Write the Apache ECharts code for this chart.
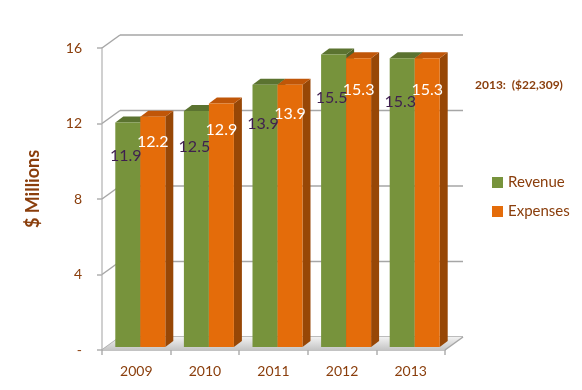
<!DOCTYPE html>
<html>
<head>
<meta charset="utf-8">
<script src="https://cdn.jsdelivr.net/npm/echarts@6/dist/echarts.min.js"></script>
<style>
html,body{margin:0;padding:0;background:#fff;}
#chart{width:582px;height:390px;}
</style>
</head>
<body>
<div id="chart"></div>
<script>
const categories = ['2009', '2010', '2011', '2012', '2013'];
const revenue = [11.9, 12.5, 13.9, 15.5, 15.3];
const expenses = [12.2, 12.9, 13.9, 15.3, 15.3];
const yTicks = [0, 4, 8, 12, 16];
const seriesNames = ['Revenue', 'Expenses'];
const note = '2013:  ($22,309)';
const yTitle = '$ Millions';

const BROWN = '#8a3e0c';
const FONT = 'Lato, "Open Sans", sans-serif';
const WALL_DX = 18, WALL_DY = -13;
const BAR_OFF_X = 4, BAR_OFF_Y = -3, BAR_DX = 8, BAR_DY = -6, BAR_W = 25;

const palettes = [
  { front: '#77933c', top: '#5b7330', side: '#4f6228', label: '#3f1f4f', ratio: 0.85 },
  { front: '#e46c0a', top: '#c05608', side: '#974706', label: '#ffffff', ratio: 0.89 }
];

function barRenderer(s) {
  const p = palettes[s];
  return function (params, api) {
    const idx = api.value(0), v = api.value(1);
    const base = api.coord([idx, 0]);
    const top = api.coord([idx, v]);
    const lab = api.coord([idx, v * p.ratio]);
    const x0 = base[0] + BAR_OFF_X + (s === 0 ? -BAR_W : 0);
    const x1 = x0 + BAR_W;
    const yb = base[1] + BAR_OFF_Y;
    const yt = top[1] + BAR_OFF_Y;
    return {
      type: 'group',
      children: [
        { type: 'polygon', shape: { points: [[x1, yt], [x1 + BAR_DX, yt + BAR_DY], [x1 + BAR_DX, yb + BAR_DY], [x1, yb]] }, style: { fill: p.side } },
        { type: 'polygon', shape: { points: [[x0, yt], [x1, yt], [x1 + BAR_DX, yt + BAR_DY], [x0 + BAR_DX, yt + BAR_DY]] }, style: { fill: p.top } },
        { type: 'rect', shape: { x: x0, y: yt, width: BAR_W, height: yb - yt }, style: { fill: p.front } },
        { type: 'text', z2: 100, x: x0 + BAR_W / 2 - (s === 0 ? 2 : 0), y: lab[1] + BAR_OFF_Y, style: { text: String(v), fill: p.label, fontSize: 16, fontFamily: FONT, align: 'center', verticalAlign: 'middle' } }
      ]
    };
  };
}

const chart = echarts.init(document.getElementById('chart'), null, { renderer: 'canvas' });
chart.setOption({
  animation: false,
  backgroundColor: '#fff',
  grid: { left: 102, right: 137, top: 48, bottom: 40 },
  legend: {
    orient: 'vertical', left: 487, top: 170, icon: 'rect', itemWidth: 11, itemHeight: 11, itemGap: 14,
    data: seriesNames,
    textStyle: { color: BROWN, fontSize: 15, fontFamily: FONT }
  },
  xAxis: {
    type: 'category', data: categories, boundaryGap: true,
    axisLine: { lineStyle: { color: '#b0b0b0', width: 1.5 } },
    axisTick: { show: true, length: 5, lineStyle: { color: '#b0b0b0', width: 1.5 } },
    axisLabel: { color: BROWN, fontSize: 14, fontFamily: FONT, margin: 14 }
  },
  yAxis: {
    type: 'value', min: 0, max: 16, interval: 4,
    axisLine: { show: true, lineStyle: { color: '#c0c0c0', width: 1.5 } },
    axisTick: { show: true, length: 5, lineStyle: { color: '#b0b0b0', width: 1.5 } },
    splitLine: { show: false },
    axisLabel: { color: BROWN, fontSize: 14, fontFamily: FONT, margin: 20, formatter: v => v === 0 ? '-' : String(v) }
  },
  graphic: [
    { type: 'text', x: 475, y: 85, style: { text: note, fill: BROWN, fontSize: 12, fontWeight: 'bold', fontFamily: FONT, verticalAlign: 'middle' } },
    { type: 'text', x: 33, y: 189, rotation: Math.PI / 2, style: { text: yTitle, fill: BROWN, fontSize: 18, fontWeight: 'bold', fontFamily: FONT, align: 'center', verticalAlign: 'middle' } }
  ],
  series: [
    {
      type: 'custom', name: '_walls', z: 1, silent: true,
      data: yTicks.map(v => [0, v]),
      renderItem: function (params, api) {
        const cs = params.coordSys;
        const y = api.coord([0, api.value(1)])[1];
        return {
          type: 'group',
          children: [
            { type: 'line', shape: { x1: cs.x, y1: y, x2: cs.x + WALL_DX, y2: y + WALL_DY }, style: { stroke: '#a6a6a6', lineWidth: 1.5 } },
            { type: 'line', shape: { x1: cs.x + WALL_DX, y1: y + WALL_DY, x2: cs.x + cs.width + WALL_DX, y2: y + WALL_DY }, style: { stroke: '#a6a6a6', lineWidth: 1.5 } }
          ]
        };
      }
    },
    {
      type: 'custom', name: '_floor', z: 2, silent: true,
      data: [[0, 0]],
      renderItem: function (params, api) {
        const cs = params.coordSys;
        const yb = api.coord([0, 0])[1];
        const xl = cs.x, xr = cs.x + cs.width;
        return {
          type: 'group',
          children: [
            { type: 'polygon', shape: { points: [[xl, yb], [xr, yb], [xr + WALL_DX, yb + WALL_DY], [xl + WALL_DX, yb + WALL_DY]] },
              style: { fill: new echarts.graphic.LinearGradient(0, 0, 0, 1, [{ offset: 0, color: '#f2f2f2' }, { offset: 1, color: '#c4c4c4' }]) } },
            { type: 'line', shape: { x1: xr, y1: yb, x2: xr + WALL_DX, y2: yb + WALL_DY }, style: { stroke: '#a6a6a6', lineWidth: 1.5 } }
          ]
        };
      }
    },
    {
      type: 'custom', name: seriesNames[0], z: 3,
      itemStyle: { color: palettes[0].front },
      data: revenue.map((v, i) => [i, v]),
      encode: { x: 0, y: 1 },
      renderItem: barRenderer(0)
    },
    {
      type: 'custom', name: seriesNames[1], z: 3,
      itemStyle: { color: palettes[1].front },
      data: expenses.map((v, i) => [i, v]),
      encode: { x: 0, y: 1 },
      renderItem: barRenderer(1)
    }
  ]
});
</script>
</body>
</html>
